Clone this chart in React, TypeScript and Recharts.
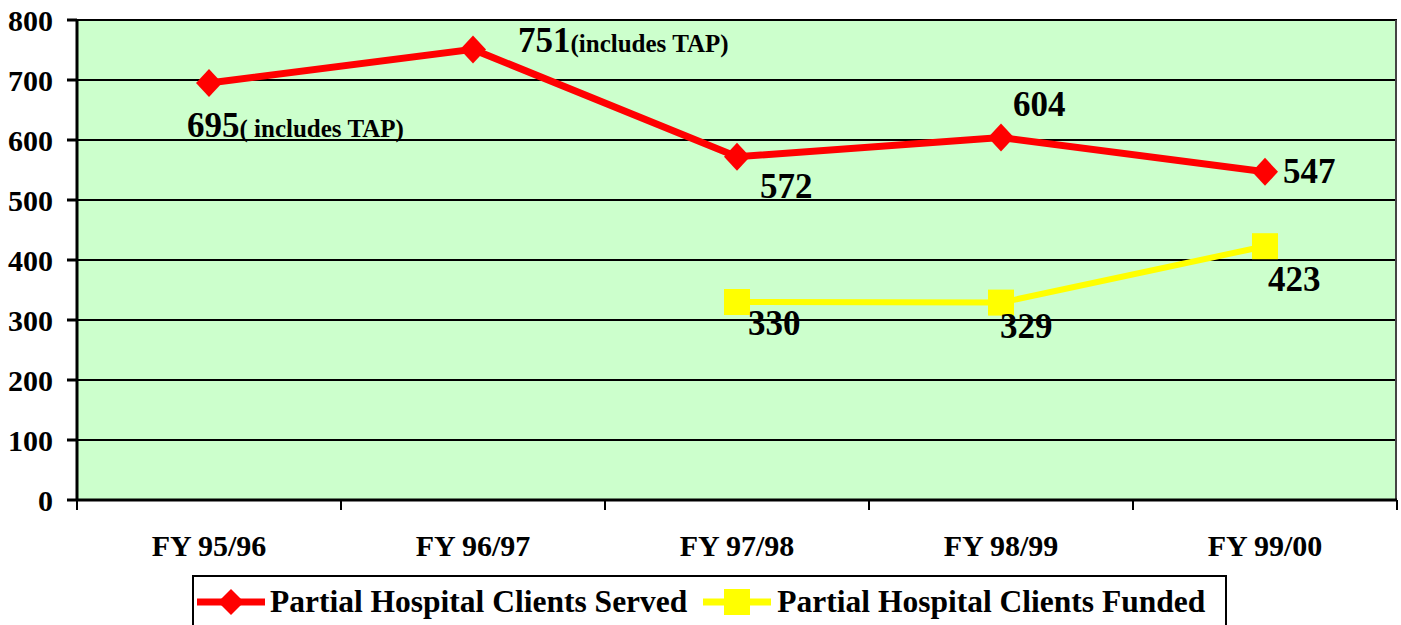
import { LineChart, Line, XAxis, YAxis, CartesianGrid, LabelList } from 'recharts';

const categories = ['FY 95/96', 'FY 96/97', 'FY 97/98', 'FY 98/99', 'FY 99/00'];
const served = [695, 751, 572, 604, 547];
const funded: (number | null)[] = [null, null, 330, 329, 423];
const servedNotes = ['( includes TAP)', '(includes TAP)', '', '', ''];
const yTicks = [0, 100, 200, 300, 400, 500, 600, 700, 800];

const data = categories.map((name, i) => ({ name, served: served[i], funded: funded[i] }));

// label placement relative to the point, per index
const servedOffsets = [[-22, 54], [45, 3], [23, 41], [12, -22], [18, 11]];
const fundedOffsets = [[0, 0], [0, 0], [11, 33], [-1, 35], [3, 45]];

const FONT = '"Liberation Serif", "Times New Roman", serif';
const HALF_BAND = 132;

const Diamond = ({ cx, cy }: any) =>
  cx == null || cy == null ? null : (
    <polygon points={`${cx - 13},${cy} ${cx},${cy - 14} ${cx + 13},${cy} ${cx},${cy + 14}`} fill="#FF0000" />
  );

const Square = ({ cx, cy }: any) =>
  cx == null || cy == null ? null : <rect x={cx - 13} y={cy - 13} width={26} height={26} fill="#FFFF00" />;

const XTick = ({ x, y, payload, index }: any) => (
  <g>
    <line x1={x - HALF_BAND} y1={y} x2={x - HALF_BAND} y2={y + 10} stroke="#000" strokeWidth={2} />
    {index === categories.length - 1 && (
      <line x1={x + HALF_BAND} y1={y} x2={x + HALF_BAND} y2={y + 10} stroke="#000" strokeWidth={2} />
    )}
    <text x={x} y={y + 56} textAnchor="middle" fontFamily={FONT} fontWeight="bold" fontSize={30} fill="#000">
      {payload.value}
    </text>
  </g>
);

const makeLabel = (offsets: number[][], notes?: string[]) => (props: any) => {
  const { x, y, value, index } = props;
  if (value == null || x == null) return null;
  const [dx, dy] = offsets[index];
  const note = notes ? notes[index] : '';
  return (
    <text x={x + dx} y={y + dy} fontFamily={FONT} fontWeight="bold" fontSize={35} fill="#000">
      {value}
      {note && <tspan fontFamily={FONT} fontSize={25}>{note}</tspan>}
    </text>
  );
};

const LegendIcon = ({ color, square }: { color: string; square?: boolean }) => (
  <svg width={68} height={36} style={{ display: 'block' }}>
    <line x1={0} y1={18} x2={68} y2={18} stroke={color} strokeWidth={7} />
    {square ? (
      <rect x={21} y={5} width={26} height={26} fill={color} />
    ) : (
      <polygon points="21,18 34,5 47,18 34,31" fill={color} />
    )}
  </svg>
);

export default function App() {
  return (
    <div style={{ position: 'absolute', left: 0, top: 0, width: 1401, height: 625, background: '#fff', overflow: 'hidden' }}>
      <LineChart width={1401} height={625} data={data} margin={{ top: 20, right: 4, left: 0, bottom: 0 }}>
        <CartesianGrid vertical={false} stroke="#000" strokeWidth={2} fill="#CCFFCC" fillOpacity={1} />
        <CartesianGrid horizontal={false} verticalPoints={[1396]} stroke="#444" strokeWidth={2} />
        <XAxis
          dataKey="name"
          height={125}
          padding={{ left: HALF_BAND, right: HALF_BAND }}
          axisLine={{ stroke: '#000', strokeWidth: 3 }}
          tickLine={false}
          tickSize={0}
          tickMargin={0}
          tick={<XTick />}
          interval={0}
        />
        <YAxis
          width={77}
          domain={[0, 800]}
          ticks={yTicks}
          interval={0}
          axisLine={{ stroke: '#000', strokeWidth: 3 }}
          tickLine={{ stroke: '#000', strokeWidth: 3 }}
          tickSize={10}
          tickMargin={14}
          tick={{ fill: '#000', fontFamily: FONT, fontWeight: 'bold', fontSize: 30 }}
        />
        <Line
          dataKey="served"
          stroke="#FF0000"
          strokeWidth={7}
          dot={<Diamond />}
          activeDot={false}
          isAnimationActive={false}
        >
          <LabelList dataKey="served" content={makeLabel(servedOffsets, servedNotes)} />
        </Line>
        <Line
          dataKey="funded"
          stroke="#FFFF00"
          strokeWidth={6}
          dot={<Square />}
          activeDot={false}
          isAnimationActive={false}
        >
          <LabelList dataKey="funded" content={makeLabel(fundedOffsets)} />
        </Line>
      </LineChart>
      <div
        style={{
          position: 'absolute',
          left: 192,
          top: 575,
          width: 1028,
          height: 60,
          border: '2px solid #000',
          background: '#fff',
          boxSizing: 'content-box',
          paddingTop: 7,
          paddingLeft: 3,
          display: 'flex',
          alignItems: 'flex-start',
          fontFamily: FONT,
          fontWeight: 'bold',
          fontSize: 31.5,
          lineHeight: '36px',
          whiteSpace: 'nowrap',
        }}
      >
        <LegendIcon color="#FF0000" />
        <span style={{ marginLeft: 5 }}>Partial Hospital Clients Served</span>
        <span style={{ marginLeft: 16 }}>
          <LegendIcon color="#FFFF00" square />
        </span>
        <span style={{ marginLeft: 6 }}>Partial Hospital Clients Funded</span>
      </div>
    </div>
  );
}
